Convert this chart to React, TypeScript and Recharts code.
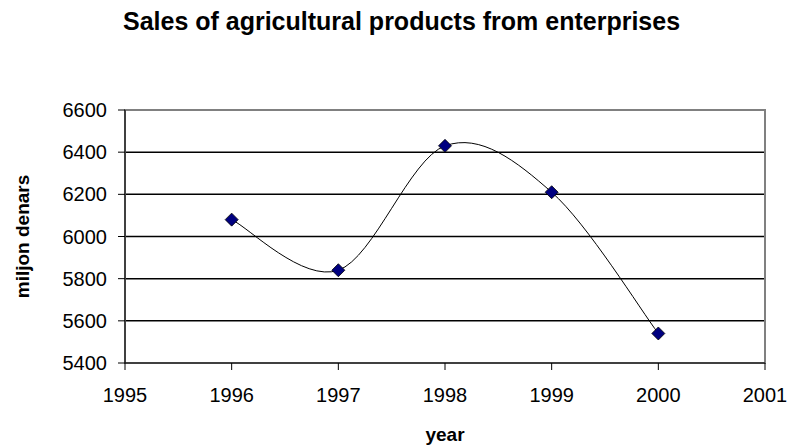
import {
  CartesianGrid,
  Line,
  LineChart,
  ReferenceArea,
  XAxis,
  YAxis,
} from "recharts";

const years = [1996, 1997, 1998, 1999, 2000];
const sales = [6080, 5840, 6430, 6210, 5540];
const yearTicks = [1995, 1996, 1997, 1998, 1999, 2000, 2001];
const salesTicks = [5400, 5600, 5800, 6000, 6200, 6400, 6600];

const data = years.map((year, i) => ({ year, sales: sales[i] }));

const FONT = "'Liberation Sans', Arial, sans-serif";

// Excel-style smoothed line: cubic bezier with control points p1 + (p2 - p0) / 6
function excelSmooth(context: any) {
  let xs: number[] = [];
  let ys: number[] = [];
  return {
    areaStart() {},
    areaEnd() {},
    lineStart() {
      xs = [];
      ys = [];
    },
    point(x: number, y: number) {
      xs.push(+x);
      ys.push(+y);
    },
    lineEnd() {
      const n = xs.length;
      if (!n) return;
      context.moveTo(xs[0], ys[0]);
      for (let i = 0; i < n - 1; i++) {
        const x0 = i > 0 ? xs[i - 1] : xs[i];
        const y0 = i > 0 ? ys[i - 1] : ys[i];
        const x3 = i + 2 < n ? xs[i + 2] : xs[i + 1];
        const y3 = i + 2 < n ? ys[i + 2] : ys[i + 1];
        context.bezierCurveTo(
          xs[i] + (xs[i + 1] - x0) / 6,
          ys[i] + (ys[i + 1] - y0) / 6,
          xs[i + 1] - (x3 - xs[i]) / 6,
          ys[i + 1] - (y3 - ys[i]) / 6,
          xs[i + 1],
          ys[i + 1]
        );
      }
    },
  };
}

function Diamond(props: any) {
  const { cx, cy } = props;
  if (cx == null || cy == null) return null;
  const r = 6.5;
  return (
    <polygon
      points={`${cx},${cy - r} ${cx + r},${cy} ${cx},${cy + r} ${cx - r},${cy}`}
      fill="#000080"
      stroke="#000"
      strokeWidth={0.8}
    />
  );
}

export default function App() {
  return (
    <div
      style={{
        position: "absolute",
        left: 0,
        top: 0,
        width: 789,
        height: 447,
        background: "#fff",
        fontFamily: FONT,
      }}
    >
      <div
        style={{
          position: "absolute",
          left: 7,
          top: 9,
          width: 789,
          textAlign: "center",
          fontWeight: "bold",
          fontSize: 25,
          lineHeight: "25px",
          color: "#000",
        }}
      >
        Sales of agricultural products from enterprises
      </div>
      <LineChart
        width={789}
        height={447}
        data={data}
        margin={{ top: 110, right: 24, left: 0, bottom: 0 }}
      >
        <CartesianGrid
          horizontal
          vertical={false}
          stroke="#000"
          strokeWidth={1.5}
        />
        <ReferenceArea
          x1={1995}
          x2={2001}
          y1={5400}
          y2={6600}
          fill="none"
          stroke="#808080"
          strokeWidth={2}
        />
        <XAxis
          dataKey="year"
          type="number"
          domain={[1995, 2001]}
          ticks={yearTicks}
          height={84}
          stroke="#000"
          tickSize={7}
          tickMargin={18}
          tick={{ fill: "#000", fontSize: 20, fontFamily: FONT }}
          label={{
            value: "year",
            position: "insideBottom",
            offset: 6,
            fill: "#000",
            fontSize: 19,
            fontWeight: "bold",
            fontFamily: FONT,
          }}
        />
        <YAxis
          type="number"
          domain={[5400, 6600]}
          ticks={salesTicks}
          width={125}
          stroke="#000"
          tickSize={7}
          tickMargin={11}
          tick={{ fill: "#000", fontSize: 20, fontFamily: FONT }}
          label={{
            value: "miljon denars",
            angle: -90,
            position: "insideLeft",
            offset: 22,
            fill: "#000",
            fontSize: 19,
            fontWeight: "bold",
            fontFamily: FONT,
            style: { textAnchor: "middle" },
          }}
        />
        <Line
          dataKey="sales"
          type={excelSmooth as any}
          stroke="#000"
          strokeWidth={1}
          dot={<Diamond />}
          activeDot={false}
          isAnimationActive={false}
        />
      </LineChart>
    </div>
  );
}
